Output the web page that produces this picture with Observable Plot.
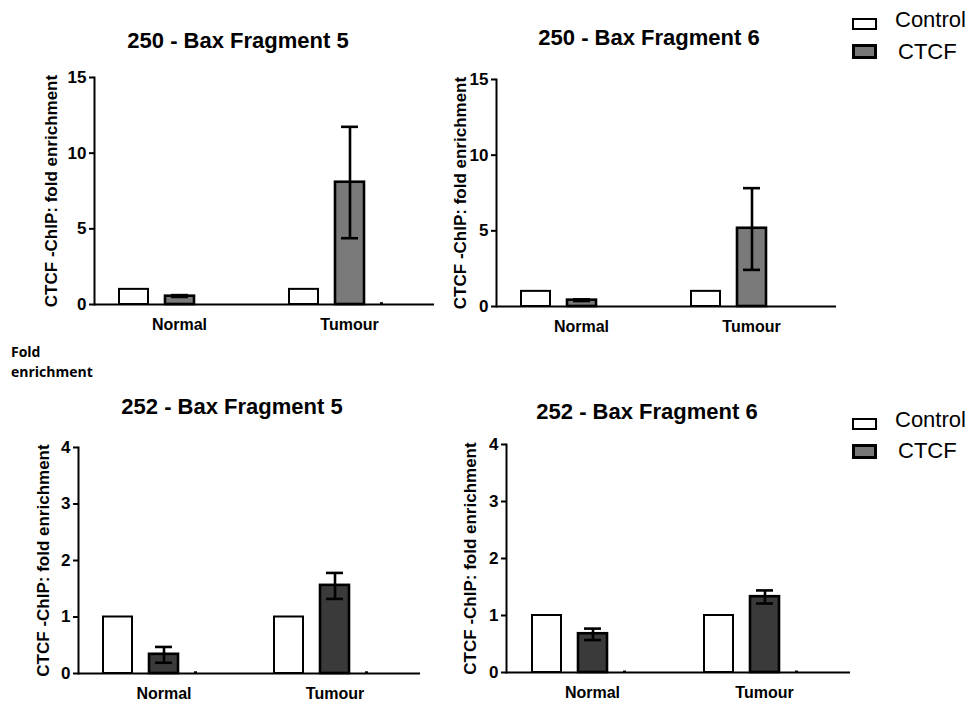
<!DOCTYPE html>
<html>
<head>
<meta charset="utf-8">
<script src="https://cdn.jsdelivr.net/npm/d3@7"></script>
<script src="https://cdn.jsdelivr.net/npm/@observablehq/plot@0.6"></script>
<style>
  html, body { margin: 0; padding: 0; background: #fff; }
  #root { position: relative; width: 977px; height: 702px; overflow: hidden; font-family: "Liberation Sans", Arial, sans-serif; color: #000; }
  .panel { position: absolute; }
  .title { position: absolute; font-weight: bold; font-size: 22px; line-height: 1; white-space: nowrap; transform: translate(-50%, -50%); }
  .leg-text { position: absolute; font-size: 22px; line-height: 1; white-space: nowrap; transform: translateY(-50%); }
  .leg-box { position: absolute; box-sizing: border-box; border: 2px solid #000; }
  .note { position: absolute; left: 11px; font-family: "Open Sans", sans-serif; font-weight: bold; font-size: 14px; line-height: 19px; }
  .panel g[aria-label="y-axis tick"], .panel g[aria-label="frame"] { stroke-width: 2px; }
  .panel g[aria-label="fx-axis tick label"] { font-size: 16px; }
  .panel g[aria-label="y-axis tick label"] { font-size: 17px; }
</style>
</head>
<body>
<div id="root"></div>
<script>
// ---- data ----
const groups = ["Normal", "Tumour"];
const seriesNames = ["Control", "CTCF", "Blank"];
const legendNames = ["Control", "CTCF"];
const yLabel = "CTCF -ChIP: fold enrichment";
const noteText = ["Fold", "enrichment"];

const titles = ["250 - Bax Fragment 5", "250 - Bax Fragment 6", "252 - Bax Fragment 5", "252 - Bax Fragment 6"];

const ticks250 = [0, 5, 10, 15];
const ticks252 = [0, 1, 2, 3, 4];

// 250 - Bax Fragment 5
const p1Control = [1, 1];
const p1Ctcf = [0.55, 8.08];
const p1Low = [0.5, 4.38];
const p1High = [0.62, 11.74];
const p1Blank = [null, 0.12];

// 250 - Bax Fragment 6
const p2Control = [1, 1];
const p2Ctcf = [0.42, 5.17];
const p2Low = [0.36, 2.42];
const p2High = [0.47, 7.82];
const p2Blank = [null, null];

// 252 - Bax Fragment 5
const p3Control = [1, 1];
const p3Ctcf = [0.34, 1.56];
const p3Low = [0.19, 1.32];
const p3High = [0.47, 1.78];
const p3Blank = [0.03, 0.03];

// 252 - Bax Fragment 6
const p4Control = [1, 1];
const p4Ctcf = [0.68, 1.33];
const p4Low = [0.57, 1.21];
const p4High = [0.77, 1.44];
const p4Blank = [0.025, 0.025];

const ctcfTopColor = "#7a7a7a";
const ctcfBottomColor = "#3a3a3a";
const legendCtcfColor = "#777777";

// ---- layout ----
const root = document.getElementById("root");

function panel(cfg) {
  const bars = [];
  groups.forEach((g, i) => {
    bars.push({group: g, series: "Control", value: cfg.control[i]});
    bars.push({group: g, series: "CTCF", value: cfg.ctcf[i]});
  });
  const errs = groups.map((g, i) => ({group: g, series: "CTCF", lo: cfg.low[i], hi: cfg.high[i]}));
  const blanks = groups.map((g, i) => ({group: g, series: "Blank", value: cfg.blank[i]})).filter(d => d.value != null);

  const chart = Plot.plot({
    width: cfg.width,
    height: cfg.height,
    marginLeft: cfg.ml,
    marginRight: cfg.mr,
    marginTop: cfg.mt,
    marginBottom: cfg.mb,
    style: {background: "transparent", fontFamily: "Liberation Sans, Arial, sans-serif", fontWeight: "bold", fontSize: "17px", color: "#000", overflow: "visible"},
    fx: {domain: groups, padding: 0, label: null, axis: "bottom", tickSize: 0, tickPadding: 14},
    x: {domain: seriesNames, paddingInner: 1 / 3, paddingOuter: 0.5, axis: null},
    y: {domain: cfg.domain, ticks: cfg.ticks, tickFormat: d => String(d), tickSize: 5, tickPadding: 3, line: true,
        label: yLabel, labelAnchor: "center", labelOffset: cfg.labelOffset, labelArrow: "none"},
    marks: [
      Plot.barY(bars.filter(d => d.series === "Control"), {fx: "group", x: "series", y: "value", fill: "white", stroke: "black", strokeWidth: 2, insetLeft: 1, insetRight: 1}),
      Plot.barY(bars.filter(d => d.series === "CTCF"), {fx: "group", x: "series", y: "value", fill: cfg.ctcfColor, stroke: "black", strokeWidth: 2.6, insetLeft: 1, insetRight: 1}),
      Plot.barY(blanks, {fx: "group", x: "series", y: "value", fill: "black", insetRight: 28}),
      Plot.ruleX(errs, {fx: "group", x: "series", y1: "lo", y2: "hi", stroke: "black", strokeWidth: 2.6}),
      Plot.tickY(errs, {fx: "group", x: "series", y: "lo", stroke: "black", strokeWidth: 2.6, insetLeft: 7, insetRight: 7}),
      Plot.tickY(errs, {fx: "group", x: "series", y: "hi", stroke: "black", strokeWidth: 2.6, insetLeft: 7, insetRight: 7}),
      Plot.ruleY([0], {stroke: "black", strokeWidth: 2})
    ]
  });
  const div = document.createElement("div");
  div.className = "panel";
  div.style.left = cfg.left + "px";
  div.style.top = cfg.top + "px";
  div.style.width = cfg.width + "px";
  div.style.height = cfg.height + "px";
  div.appendChild(chart);
  root.appendChild(div);
}

const panels = [
  {left: 0, top: 60, width: 445, height: 290, ml: 93, mr: 11, mt: 17, mb: 46, domain: [0, 15], ticks: ticks250, labelOffset: 50,
   control: p1Control, ctcf: p1Ctcf, low: p1Low, high: p1High, blank: p1Blank, ctcfColor: ctcfTopColor},
  {left: 420, top: 60, width: 425, height: 290, ml: 75, mr: 9, mt: 19, mb: 44, domain: [0, 15], ticks: ticks250, labelOffset: 43,
   control: p2Control, ctcf: p2Ctcf, low: p2Low, high: p2High, blank: p2Blank, ctcfColor: ctcfTopColor},
  {left: 0, top: 430, width: 430, height: 272, ml: 77, mr: 10, mt: 17, mb: 29, domain: [0, 4], ticks: ticks252, labelOffset: 42,
   control: p3Control, ctcf: p3Ctcf, low: p3Low, high: p3High, blank: p3Blank, ctcfColor: ctcfBottomColor},
  {left: 420, top: 430, width: 440, height: 272, ml: 86, mr: 10, mt: 14, mb: 30, domain: [0, 4], ticks: ticks252, labelOffset: 43,
   control: p4Control, ctcf: p4Ctcf, low: p4Low, high: p4High, blank: p4Blank, ctcfColor: ctcfBottomColor}
];
panels.forEach(panel);

// titles
const titlePos = [[238, 41], [649, 38], [232, 407], [647, 412]];
titles.forEach((t, i) => {
  const d = document.createElement("div");
  d.className = "title";
  d.textContent = t;
  d.style.left = titlePos[i][0] + "px";
  d.style.top = titlePos[i][1] + "px";
  root.appendChild(d);
});

// legends
function legend(boxTops, textYs) {
  const fills = ["white", legendCtcfColor];
  const heights = [12, 15];
  const borders = [2, 3];
  const textX = [895, 898];
  legendNames.forEach((name, i) => {
    const b = document.createElement("div");
    b.className = "leg-box";
    b.style.left = "852px";
    b.style.top = boxTops[i] + "px";
    b.style.width = "25px";
    b.style.height = heights[i] + "px";
    b.style.background = fills[i];
    b.style.borderWidth = borders[i] + "px";
    root.appendChild(b);
    const t = document.createElement("div");
    t.className = "leg-text";
    t.textContent = name;
    t.style.left = textX[i] + "px";
    t.style.top = textYs[i] + "px";
    root.appendChild(t);
  });
}
legend([18, 44], [20, 52]);
legend([418, 444], [420, 451]);

// note
noteText.forEach((s, i) => {
  const d = document.createElement("div");
  d.className = "note";
  d.textContent = s;
  d.style.top = (342 + i * 20) + "px";
  root.appendChild(d);
});
</script>
</body>
</html>
